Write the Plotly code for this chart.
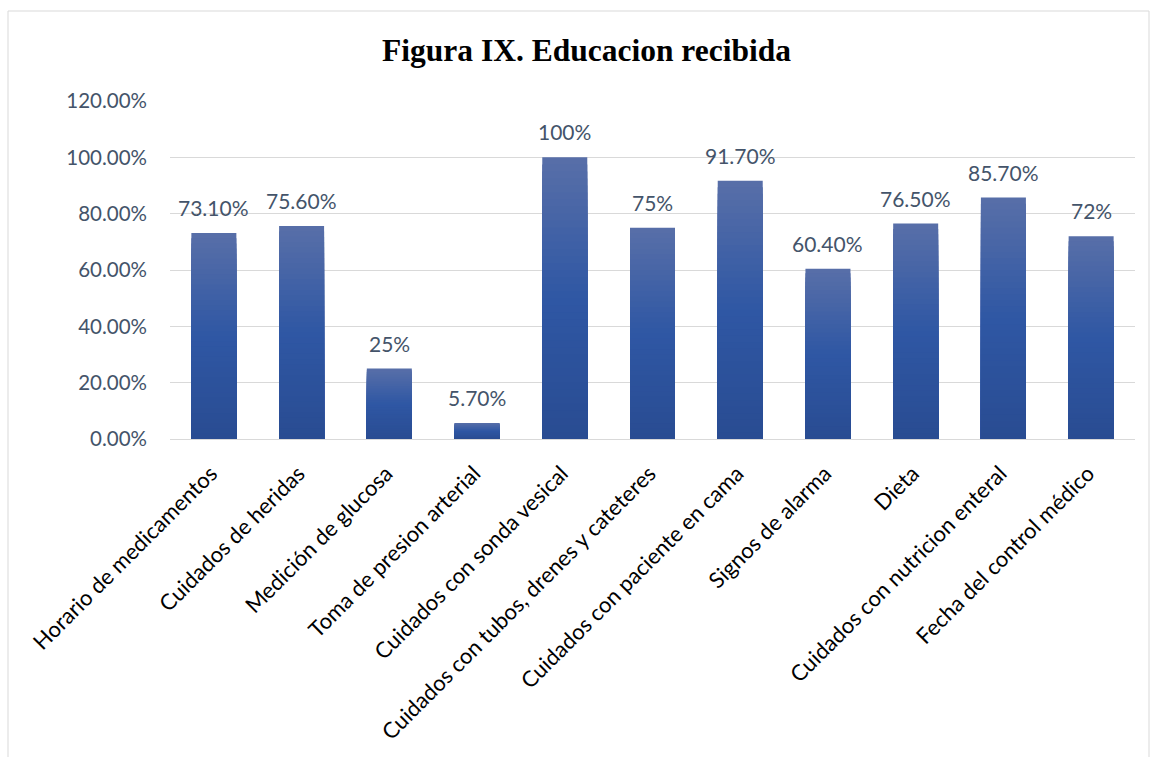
import plotly.graph_objects as go

categories = [
    "Horario de medicamentos",
    "Cuidados de heridas",
    "Medición de glucosa",
    "Toma de presion arterial",
    "Cuidados con sonda vesical",
    "Cuidados con tubos, drenes y cateteres",
    "Cuidados con paciente en cama",
    "Signos de alarma",
    "Dieta",
    "Cuidados con nutricion enteral",
    "Fecha del control médico",
]
values = [73.1, 75.6, 25, 5.7, 100, 75, 91.7, 60.4, 76.5, 85.7, 72]
value_labels = ["73.10%", "75.60%", "25%", "5.70%", "100%", "75%",
                "91.70%", "60.40%", "76.50%", "85.70%", "72%"]
y_ticks = [0, 20, 40, 60, 80, 100, 120]
y_tick_labels = ["0.00%", "20.00%", "40.00%", "60.00%", "80.00%", "100.00%", "120.00%"]

# vertical gradient stops (fraction of bar height from bottom, rgb)
grad_stops = [(0.0, (41, 76, 146)), (0.5, (47, 87, 164)), (1.0, (88, 111, 168))]
n_slices = 40


def grad_color(f):
    for (f0, c0), (f1, c1) in zip(grad_stops[:-1], grad_stops[1:]):
        if f0 <= f <= f1:
            t = (f - f0) / (f1 - f0)
            r, g, b = (round(a + (b_ - a) * t) for a, b_ in zip(c0, c1))
            return f"rgb({r},{g},{b})"
    return "rgb(%d,%d,%d)" % grad_stops[-1][1]


fig = go.Figure()

# each bar is drawn as nested layers from the baseline, tallest first, so the
# shorter, darker layers sit on top and give a top-to-bottom shading
for i in range(n_slices, 0, -1):
    hi = i / n_slices
    fig.add_trace(go.Bar(
        x=categories,
        y=[v * hi for v in values],
        marker=dict(color=grad_color(hi - 0.5 / n_slices), line=dict(width=0)),
        hoverinfo="skip",
        showlegend=False,
    ))

# value labels above the bars
for c, v, t in zip(categories, values, value_labels):
    fig.add_annotation(
        x=c, y=v, text=t, showarrow=False,
        yanchor="bottom", yshift=11,
        font=dict(family="Lato, Open Sans, sans-serif", size=21, color="#44546a"),
    )

# outer chart border
fig.add_shape(
    type="rect", xref="paper", yref="paper",
    x0=(8 - 170) / 965, x1=(1149 - 170) / 965,
    y0=-(757 - 439 + 5) / 338, y1=(439 - 11) / 338,
    line=dict(color="#d9d9d9", width=1), fillcolor="rgba(0,0,0,0)", layer="below",
)

fig.update_layout(
    width=1150, height=757,
    margin=dict(l=170, r=15, t=101, b=318),
    paper_bgcolor="white", plot_bgcolor="white",
    barmode="overlay", bargap=0.487,
    title=dict(
        text="<b>Figura IX. Educacion recibida</b>",
        x=0.51, xanchor="center", y=1 - 50 / 757, yanchor="middle",
        font=dict(family="Liberation Serif, Times New Roman, serif", size=31.5, color="black"),
    ),
    xaxis=dict(
        tickangle=-45,
        tickfont=dict(family="Lato, Open Sans, sans-serif", size=22, color="black"),
        showgrid=False, showline=True, linecolor="#d9d9d9", linewidth=1,
        ticks="",
        ticklabelshift=-3, ticklabelstandoff=12,
    ),
    yaxis=dict(
        range=[0, 120],
        tickvals=y_ticks, ticktext=y_tick_labels,
        tickfont=dict(family="Lato, Open Sans, sans-serif", size=20.5, color="#44546a"),
        showgrid=True, gridcolor="#d9d9d9", gridwidth=1,
        zeroline=False, ticks="", ticklen=0,
        ticklabelstandoff=22,
    ),
)

fig.write_html("out.html")
